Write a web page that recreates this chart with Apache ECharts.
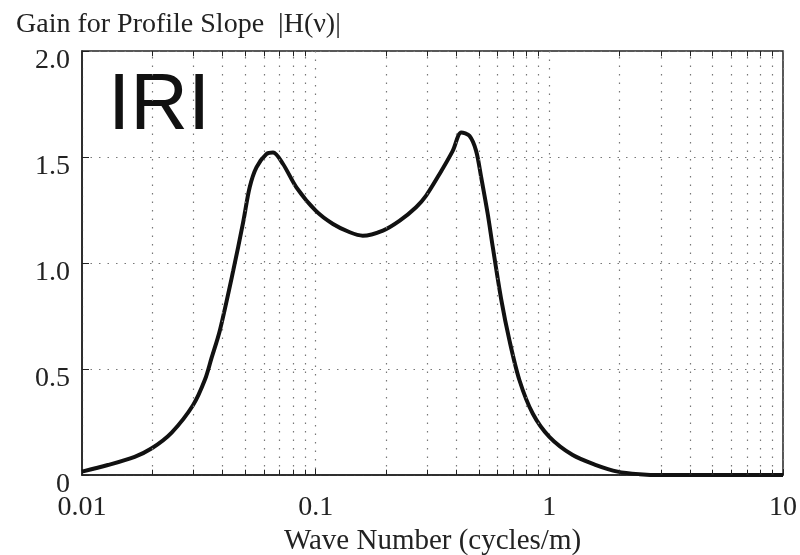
<!DOCTYPE html>
<html>
<head>
<meta charset="utf-8">
<script src="https://cdn.jsdelivr.net/npm/echarts@6/dist/echarts.min.js"></script>
<style>
  html, body { margin: 0; padding: 0; background: #fff; }
  #chart { width: 800px; height: 555px; }
</style>
</head>
<body>
<div id="chart"></div>
<script>
// wave number (cycles/m) and gain |H(v)|
const waveNumber = [0.01, 0.0129, 0.0168, 0.0199, 0.0242, 0.0299, 0.0336, 0.0358, 0.0389, 0.0444, 0.0489, 0.0522, 0.0558, 0.0616, 0.0657, 0.0725, 0.0827, 0.1, 0.1186, 0.14, 0.159, 0.194, 0.229, 0.269, 0.297, 0.339, 0.386, 0.42, 0.455, 0.486, 0.511, 0.545, 0.573, 0.622, 0.675, 0.745, 0.849, 1.0, 1.259, 1.585, 1.96, 2.43, 3, 4, 6, 10]
const gain = [0.016, 0.047, 0.086, 0.126, 0.2, 0.33, 0.45, 0.55, 0.682, 0.965, 1.19, 1.357, 1.451, 1.514, 1.521, 1.467, 1.357, 1.247, 1.184, 1.145, 1.129, 1.153, 1.2, 1.263, 1.318, 1.42, 1.529, 1.616, 1.6, 1.529, 1.404, 1.231, 1.074, 0.83, 0.635, 0.447, 0.29, 0.18, 0.094, 0.047, 0.016, 0.004, 0, 0, 0, 0]
// log grid positions between the decades
const minorX = [0.02, 0.03, 0.04, 0.05, 0.06, 0.07, 0.08, 0.09, 0.2, 0.3, 0.4, 0.5, 0.6, 0.7, 0.8, 0.9, 2, 3, 4, 5, 6, 7, 8, 9]
const yTicks = [0, 0.5, 1.0, 1.5, 2.0]

const serif = `'Liberation Serif', 'DejaVu Serif', serif`
const dotted = { color: '#777', width: 1.2, type: [1.5, 7] }
const tickStyle = { color: '#222', width: 1, type: 'solid' }

const chart = echarts.init(document.getElementById('chart'))

// dotted minor gridlines + short inside ticks on top/bottom frame
let markData = []
minorX.forEach(x => {
  markData.push([{ coord: [x, 0], lineStyle: dotted }, { coord: [x, 2] }])
  markData.push([{ coord: [x, 0], lineStyle: tickStyle }, { coord: [x, 0.025] }])
  markData.push([{ coord: [x, 2], lineStyle: tickStyle }, { coord: [x, 1.975] }])
})

const option = {
  animation: false,
  backgroundColor: '#fff',
  title: {
    text: 'Gain for Profile Slope  |H(ν)|',
    left: 11,
    top: 6,
    textStyle: {
      color: '#222',
      fontWeight: 'normal',
      fontSize: 28,
      fontFamily: serif
    }
  },
  graphic: [{
    type: 'text',
    left: 108,
    top: 67,
    style: {
      text: 'IRI',
      fill: '#111',
      font: '80px "Liberation Sans", Arial, sans-serif'
    }
  }],
  grid: {
    left: 82,
    right: 17,
    top: 51,
    bottom: 80,
    outerBoundsMode: 'none',
    show: true,
    borderColor: '#222',
    borderWidth: 1.5
  },
  xAxis: {
    type: 'log',
    logBase: 10,
    min: 0.01,
    max: 10,
    name: 'Wave Number (cycles/m)',
    nameLocation: 'middle',
    nameGap: 51,
    nameTextStyle: { color: '#222', fontSize: 29, fontFamily: serif },
    axisLine: { show: true, onZero: false, lineStyle: { color: '#222', width: 1.5 } },
    axisTick: { show: true, inside: true, length: 6, lineStyle: { color: '#222' } },
    axisLabel: {
      color: '#222',
      fontSize: 28,
      fontFamily: serif,
      margin: 19,
      formatter: v => String(v)
    },
    splitLine: { show: true, lineStyle: dotted }
  },
  yAxis: {
    type: 'value',
    min: 0,
    max: 2,
    interval: 0.5,
    axisLine: { show: true, lineStyle: { color: '#222', width: 1.5 } },
    axisTick: { show: true, inside: true, length: 7, lineStyle: { color: '#222' } },
    axisLabel: {
      color: '#222',
      fontSize: 28,
      fontFamily: serif,
      margin: 12,
      verticalAlign: 'top',
      lineHeight: 20,
      formatter: v => (yTicks.indexOf(v) > 0 ? v.toFixed(1) : '0')
    },
    splitLine: { show: true, lineStyle: dotted }
  },
  series: [{
    type: 'line',
    data: waveNumber.map((x, i) => [x, gain[i]]),
    smooth: 0.3,
    showSymbol: false,
    lineStyle: { color: '#111', width: 4 },
    markLine: {
      silent: true,
      symbol: ['none', 'none'],
      label: { show: false },
      data: markData
    },
    z: 3
  }]
}

chart.setOption(option)
</script>
</body>
</html>
